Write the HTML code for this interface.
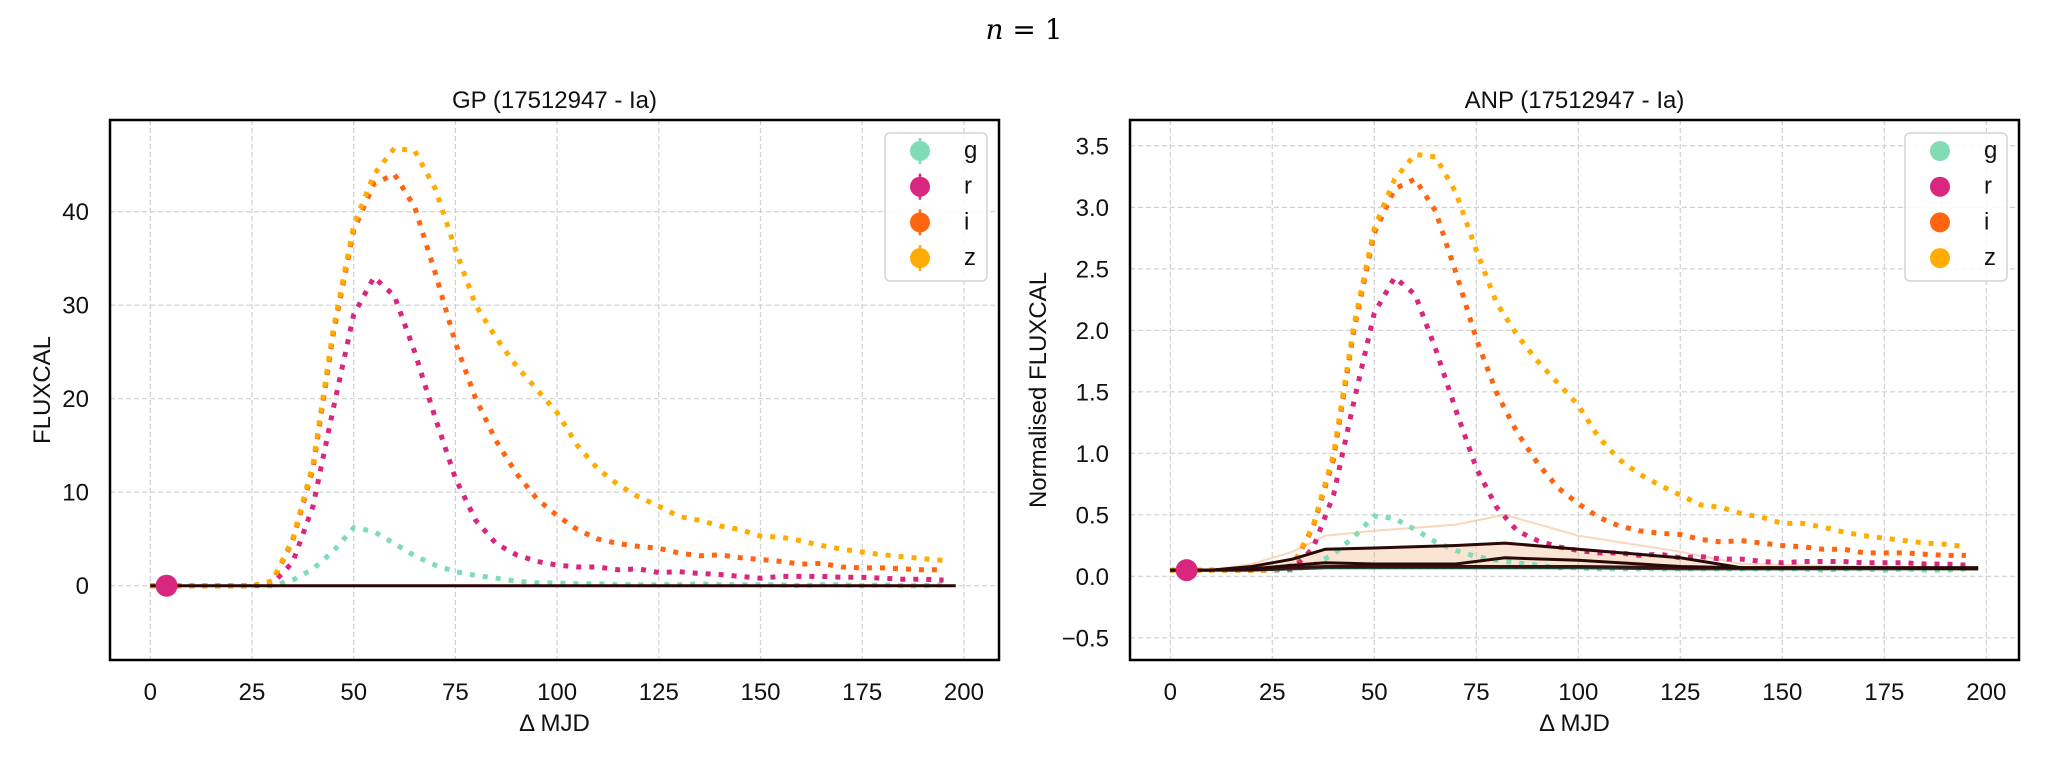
<!DOCTYPE html>
<html><head><meta charset="utf-8"><title>GP vs ANP light curves</title>
<style>
html,body{margin:0;padding:0;background:#fff;}
svg{display:block;font-family:"Liberation Sans","DejaVu Sans",sans-serif;}
</style></head>
<body>
<svg id="chart" width="2048" height="768" viewBox="0 0 2048 768" xmlns="http://www.w3.org/2000/svg">
<text x="1024" y="39" text-anchor="middle" font-size="28" font-family="DejaVu Serif, serif"><tspan font-style="italic">n</tspan> = 1</text>
</svg>
<script>
const xs = [0,5,10,15,20,25,30,35,40,45,50,55,60,65,70,75,80,85,90,95,100,105,110,115,120,125,130,135,140,145,150,155,160,165,170,175,180,185,190,195];
const bands = ['g','r','i','z'];
const gpG = [0,0,0,0,0,0,0,0.6,1.8,3.7,6.2,5.8,4.5,3.2,2.2,1.5,1.1,0.8,0.5,0.3,0.3,0.2,0.2,0.1,0.1,0.1,0.1,0.2,0.1,0.1,0.1,0.1,0,0.1,0.1,0,0.1,0,0,0.1];
const gpR = [0,0,0,0,0,0,0.2,2.5,8.5,19,29,33,31,25,18,11.5,7,4.5,3.3,2.6,2.2,2,2,1.7,1.8,1.4,1.5,1.3,1.2,1,0.8,1,1,1,0.9,0.9,0.8,0.7,0.7,0.6];
const gpI = [0,0,0,0,0,0,0.4,4.8,12.5,27,38,43,44,40.5,33.5,26,20,15.5,12,9.3,7.5,6,5,4.5,4.2,4,3.5,3.2,3.3,3,2.8,2.6,2.3,2.4,2,1.9,1.9,1.8,1.7,1.7];
const gpZ = [0,0,0,0,0,0,0.5,5,13,27.5,38.5,44,46.8,46.5,42.5,36,30,26.5,23.5,21,18.5,15,12.5,10.8,9.5,8.5,7.4,7,6.4,6,5.3,5.2,4.8,4.3,3.9,3.6,3.3,3.1,2.9,2.7];
const anpG = [0.05,0.05,0.05,0.05,0.05,0.05,0.05,0.09,0.18,0.32,0.49,0.47,0.38,0.28,0.21,0.16,0.13,0.11,0.09,0.07,0.07,0.06,0.06,0.06,0.06,0.06,0.06,0.06,0.06,0.06,0.06,0.06,0.05,0.06,0.06,0.05,0.06,0.05,0.05,0.06];
const anpR = [0.05,0.05,0.05,0.05,0.05,0.05,0.06,0.23,0.66,1.42,2.14,2.43,2.29,1.85,1.35,0.88,0.56,0.37,0.29,0.24,0.21,0.19,0.19,0.17,0.18,0.15,0.16,0.14,0.14,0.12,0.11,0.12,0.12,0.12,0.11,0.11,0.11,0.10,0.10,0.09];
const anpI = [0.05,0.05,0.05,0.05,0.05,0.05,0.08,0.40,0.95,2.0,2.79,3.15,3.23,2.97,2.47,1.93,1.49,1.17,0.92,0.72,0.59,0.48,0.41,0.37,0.35,0.34,0.30,0.28,0.29,0.27,0.25,0.24,0.22,0.22,0.19,0.19,0.19,0.18,0.17,0.17];
const anpZ = [0.05,0.05,0.05,0.05,0.05,0.05,0.09,0.41,0.99,2.04,2.83,3.23,3.43,3.41,3.12,2.65,2.22,1.96,1.75,1.57,1.39,1.13,0.95,0.83,0.74,0.66,0.58,0.56,0.51,0.48,0.43,0.43,0.40,0.36,0.33,0.31,0.29,0.27,0.26,0.24];
const predX = [0,10,20,30,38,50,70,82,100,125,140,170,198];
const predA = [0.05,0.05,0.08,0.14,0.22,0.23,0.25,0.27,0.22,0.15,0.07,0.07,0.06];
const predB = [0.05,0.05,0.06,0.09,0.11,0.10,0.10,0.15,0.13,0.08,0.07,0.07,0.07];
const predC = [0.05,0.05,0.05,0.07,0.08,0.08,0.08,0.08,0.08,0.07,0.07,0.07,0.07];
const predD = [0.05,0.05,0.05,0.06,0.07,0.07,0.07,0.07,0.07,0.06,0.06,0.06,0.06];
const predUp = [0.05,0.05,0.10,0.20,0.33,0.37,0.42,0.50,0.33,0.20,0.10,0.08,0.07];
const xTicks = [0,25,50,75,100,125,150,175,200];
const gpYTicks = [0,10,20,30,40];
const anpYTicks = [-0.5,0.0,0.5,1.0,1.5,2.0,2.5,3.0,3.5];
const anpYLabels = ['−0.5','0.0','0.5','1.0','1.5','2.0','2.5','3.0','3.5'];
const obsX = [4];
const gpObsY = [0];
const anpObsY = [0.05];

const colors = {g:'#7fdcb4', r:'#d9267f', i:'#ff6410', z:'#ffab00'};
const NS = 'http://www.w3.org/2000/svg';
const svg = document.getElementById('chart');
function mk(tag, attrs, parent){
  const e = document.createElementNS(NS, tag);
  for (const k in attrs) e.setAttribute(k, attrs[k]);
  (parent||svg).appendChild(e);
  return e;
}
function pathD(X, Y, sx, sy){
  return X.map((x,i)=>(i?'L':'M')+sx(x).toFixed(1)+','+sy(Y[i]).toFixed(1)).join(' ');
}

function panel(cfg){
  const g = mk('g', {});
  
  
  const L=cfg.left, R=cfg.right, T=120, B=660;
  const sx = v => cfg.x0 + v*(cfg.x25-cfg.x0)/25;
  const sy = v => cfg.y0 - v*cfg.ypx;
  const clipId = 'clip-'+cfg.name;
  const cp = mk('clipPath', {id:clipId}, g);
  mk('rect', {x:L, y:T, width:R-L, height:B-T}, cp);
  const grid = mk('g', {}, g);
  
  
  xTicks.forEach(t=>{
    const l = mk('line', {x1:sx(t), x2:sx(t), y1:T, y2:B, stroke:'#cfcfcf', 'stroke-width':1.2, 'stroke-dasharray':'5 3'}, grid);
    
    
    const tx = mk('text', {x:sx(t), y:700, 'text-anchor':'middle', 'font-size':24, fill:'#111'}, g);
    tx.textContent = t;
    
    
  });
  cfg.yTicks.forEach((t,i)=>{
    const l = mk('line', {x1:L, x2:R, y1:sy(t), y2:sy(t), stroke:'#cfcfcf', 'stroke-width':1.2, 'stroke-dasharray':'5 3'}, grid);
    
    
    const tx = mk('text', {x:L-21, y:sy(t)+8.5, 'text-anchor':'end', 'font-size':24, fill:'#111'}, g);
    tx.textContent = cfg.yLabels[i];
    
    
  });
  const plot = mk('g', {'clip-path':'url(#'+clipId+')'}, g);
  
  
  if (cfg.pred){
    const band = mk('path', {d: pathD(predX, predA, sx, sy) + ' ' + pathD(predX.slice().reverse(), predD.slice().reverse(), sx, sy).replace('M','L') + ' Z', fill:'rgba(240,165,110,0.3)', stroke:'none'}, plot);
    
    
    const up = mk('path', {d: pathD(predX, predUp, sx, sy), fill:'none', stroke:'rgba(245,180,130,0.55)', 'stroke-width':2}, plot);
    
    
  }
  cfg.series.forEach((Y,k)=>{
    const p = mk('path', {d: pathD(xs, Y, sx, sy), fill:'none', stroke:colors[bands[k]], 'stroke-width':5, 'stroke-dasharray':'5 8'}, plot);
    
    
  });
  if (cfg.pred){
    [[predD,'#1d4d3a'],[predC,'#3a1010'],[predB,'#2a0a06'],[predA,'#2a0a06']].forEach((pr,k)=>{
      const p = mk('path', {d: pathD(predX, pr[0], sx, sy), fill:'none', stroke:pr[1], 'stroke-width':3}, plot);
      
      
    });
  } else {
    const p = mk('line', {x1:sx(0), x2:sx(198), y1:sy(0), y2:sy(0), stroke:'#2a0606', 'stroke-width':3}, plot);
    
    
  }
  obsX.forEach((x,i)=>{
    const c = mk('circle', {cx:sx(x), cy:sy(cfg.obs[i]), r:11, fill:'#d9267f'}, plot);
    
    
  });
  const frame = mk('rect', {x:L, y:T, width:R-L, height:B-T, fill:'none', stroke:'#000', 'stroke-width':2.5}, g);
  
  
  const title = mk('text', {x:(L+R)/2, y:108, 'text-anchor':'middle', 'font-size':24, fill:'#111'}, g);
  title.textContent = cfg.title;
  
  
  const xl = mk('text', {x:(L+R)/2, y:731, 'text-anchor':'middle', 'font-size':24, fill:'#111'}, g);
  xl.textContent = 'Δ MJD';
  
  
  const yl = mk('text', {x:0, y:0, 'text-anchor':'middle', 'font-size':24, fill:'#111', transform:'translate('+cfg.ylx+',390) rotate(-90)'}, g);
  yl.textContent = cfg.ylabel;
  
  
  const lg = mk('g', {}, g);
  
  
  const lx = R-114;
  mk('rect', {x:lx, y:133, width:102, height:148, rx:5, fill:'rgba(255,255,255,0.85)', stroke:'#d4d4d4', 'stroke-width':1.5}, lg);
  bands.forEach((b,k)=>{
    const ey = 151 + k*35.7;
    const en = mk('g', {}, lg);
    
    
    if (cfg.errbars) mk('line', {x1:lx+35, x2:lx+35, y1:ey-13, y2:ey+13, stroke:colors[b], 'stroke-width':2.5}, en);
    mk('circle', {cx:lx+35, cy:ey, r:10, fill:colors[b]}, en);
    const t = mk('text', {x:lx+79, y:ey+7, 'font-size':24, fill:'#111'}, en);
    t.textContent = b;
  });
}

panel({name:'gp-panel', left:110, right:999, x0:150.3, x25:252, y0:585.7, ypx:9.35,
  yTicks:gpYTicks, yLabels:gpYTicks.map(String), series:[gpG,gpR,gpI,gpZ], obs:gpObsY,
  title:'GP (17512947 - Ia)', ylabel:'FLUXCAL', ylx:50, errbars:true, pred:false});
panel({name:'anp-panel', left:1130, right:2019, x0:1170.3, x25:1272.3, y0:576.3, ypx:123,
  yTicks:anpYTicks, yLabels:anpYLabels, series:[anpG,anpR,anpI,anpZ], obs:anpObsY,
  title:'ANP (17512947 - Ia)', ylabel:'Normalised FLUXCAL', ylx:1046, errbars:false, pred:true});
</script>
</body></html>
